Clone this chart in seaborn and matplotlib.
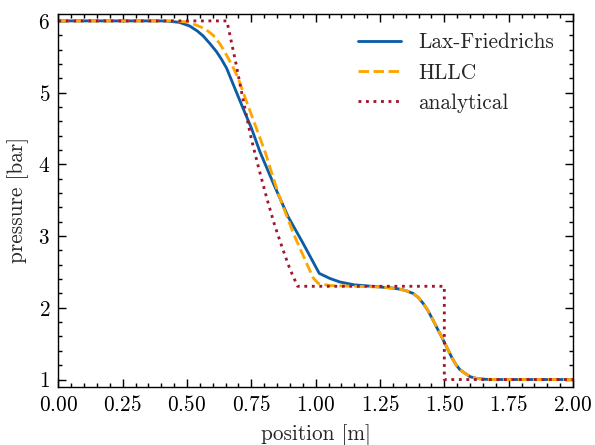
import numpy as np
import pandas as pd
import seaborn as sns
import matplotlib.pyplot as plt
from matplotlib.ticker import MultipleLocator

# -- values -- #
x_lf = [0.0, 0.40, 0.43, 0.47, 0.51, 0.54, 0.563, 0.59, 0.615, 0.635, 0.654, 0.67, 0.686, 0.718, 0.751,
        0.783, 0.835, 0.893, 0.951, 0.99, 1.014, 1.055, 1.094, 1.15, 1.25, 1.30, 1.327, 1.35, 1.379, 1.40,
        1.418, 1.435, 1.456, 1.47, 1.489, 1.515, 1.53, 1.547, 1.56, 1.579, 1.60, 1.625, 1.66, 1.70, 2.0]
p_lf = [6.0, 6.0, 5.995, 5.98, 5.93, 5.86, 5.79, 5.68, 5.57, 5.46, 5.34, 5.20, 5.06, 4.78, 4.50,
        4.18, 3.74, 3.27, 2.90, 2.64, 2.48, 2.41, 2.36, 2.32, 2.29, 2.275, 2.26, 2.24, 2.20, 2.14,
        2.06, 1.97, 1.83, 1.73, 1.60, 1.41, 1.30, 1.20, 1.14, 1.09, 1.04, 1.015, 1.003, 1.0, 1.0]

x_hllc = [0.0, 0.45, 0.50, 0.537, 0.57, 0.602, 0.63, 0.654, 0.677, 0.699, 0.732, 0.770, 0.803, 0.854,
          0.913, 0.965, 0.99, 1.01, 1.055, 1.15, 1.25, 1.30, 1.327, 1.35, 1.379, 1.40, 1.418, 1.435,
          1.456, 1.47, 1.489, 1.515, 1.53, 1.547, 1.56, 1.579, 1.60, 1.625, 1.66, 1.70, 2.0]
p_hllc = [6.0, 6.0, 5.985, 5.94, 5.89, 5.80, 5.67, 5.52, 5.37, 5.20, 4.87, 4.50, 4.18, 3.60,
          3.04, 2.62, 2.42, 2.34, 2.31, 2.30, 2.29, 2.275, 2.26, 2.24, 2.20, 2.14, 2.06, 1.97,
          1.83, 1.73, 1.60, 1.41, 1.30, 1.20, 1.14, 1.09, 1.04, 1.015, 1.003, 1.0, 1.0]

x_exact = [0.0, 0.655, 0.673, 0.693, 0.712, 0.732, 0.751, 0.78, 0.81, 0.84, 0.87, 0.90, 0.93, 1.50, 1.50, 2.0]
p_exact = [6.0, 6.0, 5.70, 5.36, 5.01, 4.66, 4.34, 3.93, 3.53, 3.16, 2.84, 2.54, 2.30, 2.30, 1.0, 1.0]

sns.set_theme(style='ticks')
plt.rcParams['font.family'] = ['cmr10', 'DejaVu Serif']
plt.rcParams['mathtext.fontset'] = 'cm'
plt.rcParams['axes.formatter.use_mathtext'] = True
plt.rcParams['font.size'] = 9
plt.rcParams['axes.unicode_minus'] = False

fig, ax = plt.subplots(figsize=(3.5, 2.618), dpi=170)
fig.subplots_adjust(left=0.098, right=0.963, bottom=0.131, top=0.969)

sns.lineplot(x=x_lf, y=p_lf, color='#0C5DA5', linewidth=1.2, label='Lax-Friedrichs',
             estimator=None, sort=False, ax=ax)
sns.lineplot(x=x_hllc, y=p_hllc, color='#FFA500', linewidth=1.2, linestyle='--', label='HLLC',
             estimator=None, sort=False, ax=ax)
sns.lineplot(x=x_exact, y=p_exact, color='#A2142F', linewidth=1.2, linestyle=':', label='analytical',
             estimator=None, sort=False, ax=ax)

ax.set_xlim(0, 2)
ax.set_ylim(0.9, 6.1)
ax.xaxis.set_major_locator(MultipleLocator(0.25))
ax.xaxis.set_minor_locator(MultipleLocator(0.05))
ax.yaxis.set_major_locator(MultipleLocator(1))
ax.yaxis.set_minor_locator(MultipleLocator(0.2))
ax.tick_params(which='both', direction='in', top=True, right=True, width=0.6, labelsize=9, colors='black')
ax.tick_params(which='major', length=3.5)
ax.tick_params(which='minor', length=1.8)
for s in ax.spines.values():
    s.set_linewidth(0.6)
    s.set_color('black')

ax.set_xlabel('position [m]', fontsize=9)
ax.set_ylabel('pressure [bar]', fontsize=9)
ax.legend(loc='upper right', frameon=False, fontsize=9)

fig.savefig('out.png', dpi=170)
